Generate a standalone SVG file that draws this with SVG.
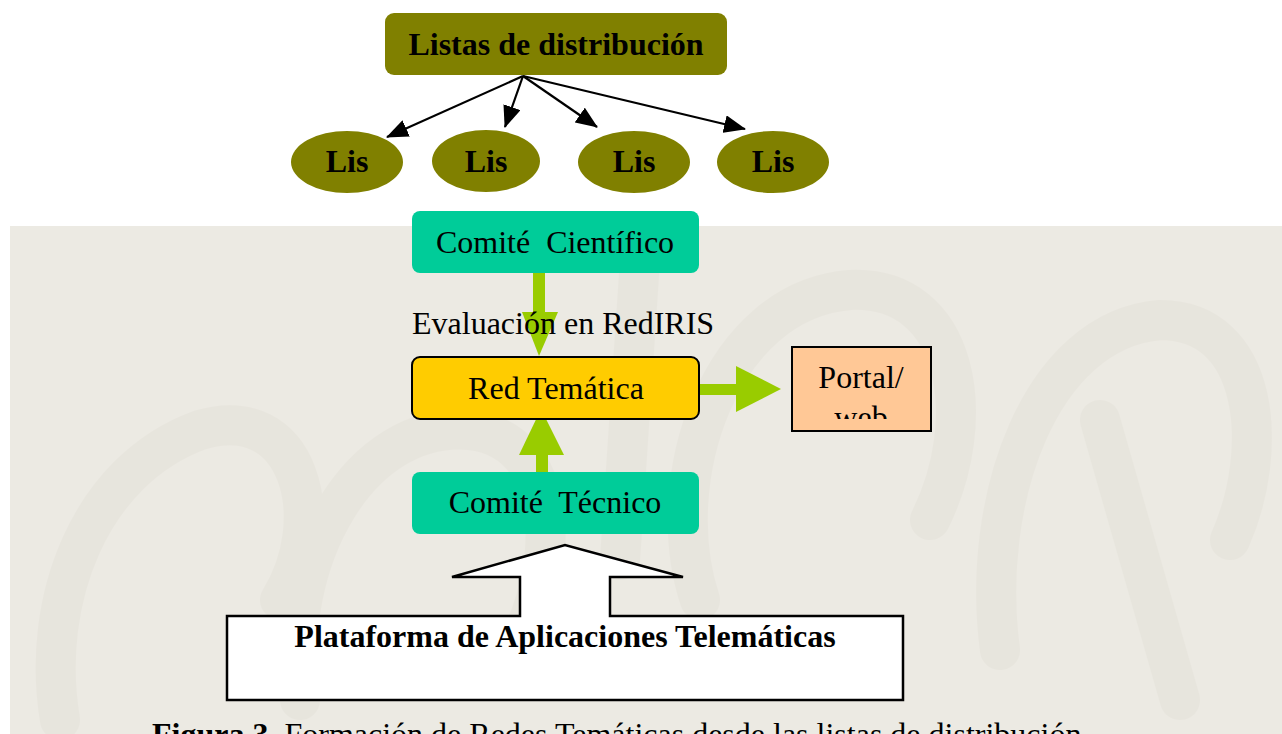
<svg xmlns="http://www.w3.org/2000/svg" width="1282" height="734" viewBox="0 0 1282 734">
<style>
.t{font-family:"Liberation Serif","Times New Roman",serif;fill:#000;font-size:32px}
.b{font-weight:bold}
.olive{fill:#808000}
.teal{fill:#00CC99}
.g{fill:#99CC00}
.wm{fill:none;stroke:#E2DFD6;stroke-linecap:round}
</style>
<defs>
<marker id="ah" markerWidth="22" markerHeight="18" refX="21" refY="9" orient="auto" markerUnits="userSpaceOnUse" viewBox="0 0 22 18">
<path d="M0,0 L22,9 L0,18 Z" fill="#000"/>
</marker>
<clipPath id="pclip"><rect x="792" y="348" width="138" height="71"/></clipPath>
</defs>
<rect x="0" y="0" width="1282" height="734" fill="#fff"/>
<g id="background">
<rect x="10" y="226" width="1272" height="508" fill="#ECEAE3"/>
<g class="wm" stroke-width="40" opacity="0.4">
<path d="M60,720 C40,600 90,470 200,430 C300,400 330,520 280,600"/>
<path d="M300,700 C280,560 360,420 470,430 C560,440 560,560 520,640"/>
<path d="M700,600 C660,480 720,300 850,290 C960,285 980,420 930,520"/>
<path d="M1000,650 C980,500 1040,330 1160,320 C1260,320 1270,450 1230,540"/>
<path d="M1100,420 L1180,700"/>
<path d="M640,260 L620,560"/>
</g>
</g>
<g id="connectors">
<g stroke="#000" stroke-width="2.2" fill="none">
<line x1="523" y1="76" x2="387" y2="137" marker-end="url(#ah)"/>
<line x1="523" y1="76" x2="505" y2="127" marker-end="url(#ah)"/>
<line x1="523" y1="76" x2="597" y2="127" marker-end="url(#ah)"/>
<line x1="523" y1="76" x2="745" y2="129" marker-end="url(#ah)"/>
</g>
<g id="arrow-cientifico-red">
<rect class="g" x="533" y="273" width="12" height="41"/>
<polygon class="g" points="522,312 558,312 539,356"/>
</g>
<g id="arrow-red-portal">
<rect class="g" x="699" y="384" width="40" height="11"/>
<polygon class="g" points="736,366 736,412 781,389"/>
</g>
<g id="arrow-tecnico-red">
<rect class="g" x="536" y="450" width="12" height="23"/>
<polygon class="g" points="519,455 564,455 541,409"/>
</g>
</g>
<g id="listas">
<rect class="olive" x="385" y="13" width="342" height="62" rx="9"/>
<text class="t b" x="556" y="55" text-anchor="middle">Listas de distribución</text>
</g>
<g id="lis1"><ellipse class="olive" cx="347" cy="162" rx="56" ry="31"/><text class="t b" x="347" y="172" font-size="30" text-anchor="middle">Lis</text></g>
<g id="lis2"><ellipse class="olive" cx="486" cy="161" rx="54" ry="31"/><text class="t b" x="486" y="172" font-size="30" text-anchor="middle">Lis</text></g>
<g id="lis3"><ellipse class="olive" cx="634" cy="162" rx="56" ry="31"/><text class="t b" x="634" y="172" font-size="30" text-anchor="middle">Lis</text></g>
<g id="lis4"><ellipse class="olive" cx="773" cy="162" rx="56" ry="31"/><text class="t b" x="773" y="172" font-size="30" text-anchor="middle">Lis</text></g>
<g id="comite-cientifico">
<rect class="teal" x="412" y="211" width="287" height="62" rx="8"/>
<text class="t" x="555" y="253" text-anchor="middle" xml:space="preserve">Comité  Científico</text>
</g>
<g id="evaluacion">
<text class="t" x="412" y="334">Evaluación en RedIRIS</text>
</g>
<g id="red-tematica">
<rect x="412" y="357" width="287" height="62" rx="8" fill="#FFCC00" stroke="#000" stroke-width="2"/>
<text class="t" x="556" y="399" text-anchor="middle">Red Temática</text>
</g>
<g id="portal">
<rect x="792" y="347" width="139" height="84" fill="#FFC896" stroke="#000" stroke-width="2"/>
<g clip-path="url(#pclip)">
<text class="t" x="861" y="388" font-size="31" text-anchor="middle">Portal/</text>
<text class="t" x="861" y="428" font-size="31" text-anchor="middle">web</text>
</g>
</g>
<g id="comite-tecnico">
<rect class="teal" x="412" y="472" width="287" height="62" rx="8"/>
<text class="t" x="555" y="513" text-anchor="middle" xml:space="preserve">Comité  Técnico</text>
</g>
<g id="plataforma">
<polygon points="227,616 520,616 520,577 452,577 565,545 683,577 610,577 610,616 903,616 903,700 227,700" fill="#fff" stroke="#000" stroke-width="2.5" stroke-linejoin="miter"/>
<text class="t b" x="565" y="647" text-anchor="middle">Plataforma de Aplicaciones Telemáticas</text>
</g>
<g id="caption">
<text class="t" x="152" y="745"><tspan font-weight="bold">Figura 3</tspan>. Formación de Redes Temáticas desde las listas de distribución.</text>
</g>
</svg>
